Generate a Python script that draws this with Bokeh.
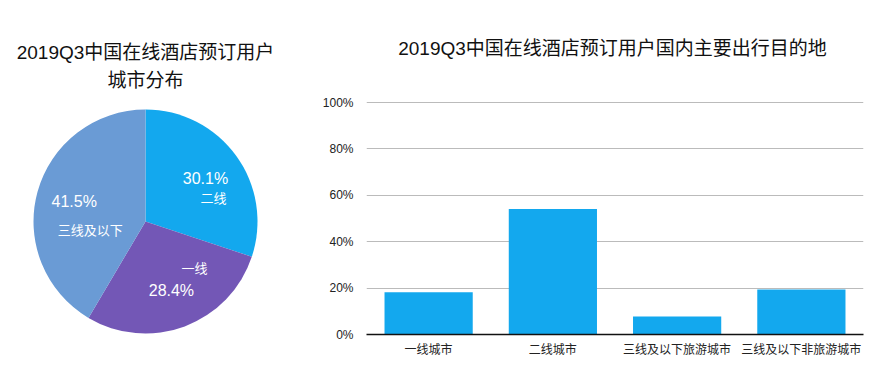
import math
from bokeh.plotting import figure
from bokeh.layouts import row
from bokeh.models import Range1d, FactorRange, FixedTicker, NumeralTickFormatter, ColumnDataSource
from bokeh.core.properties import value
from bokeh.embed import file_html
from bokeh.resources import INLINE

# ---- data ----
pie_title = ["2019Q3中国在线酒店预订用户", "城市分布"]
pie_labels = ["二线", "一线", "三线及以下"]
pie_values = [30.1, 28.4, 41.5]
pie_colors = ["#13A8EE", "#7357B6", "#6A9BD5"]

bar_title = "2019Q3中国在线酒店预订用户国内主要出行目的地"
bar_categories = ["一线城市", "二线城市", "三线及以下旅游城市", "三线及以下非旅游城市"]
bar_values = [0.182, 0.541, 0.078, 0.194]
y_ticks = [0, 0.2, 0.4, 0.6, 0.8, 1.0]

FONT = "'Liberation Sans', 'Noto Sans CJK SC', sans-serif"

H = 383
MB = 49               # bottom border shared by both plots (frames are aligned in a row)
FRAME_H = H - MB

# ---- pie ----
PW = 300
R_PX = 112.0
CX, CY = 145.0, 221.0  # pie center in canvas pixels (from top-left)
pie = figure(width=PW, height=H, output_backend="svg", toolbar_location=None,
             title=None, x_axis_type=None, y_axis_type=None,
             x_range=Range1d(-CX / R_PX, (PW - CX) / R_PX),
             y_range=Range1d(-(FRAME_H - CY) / R_PX, CY / R_PX),
             min_border_left=0, min_border_right=0, min_border_top=0, min_border_bottom=MB)
pie.grid.visible = False
pie.outline_line_color = None

total = sum(pie_values)
starts, ends, mids = [], [], []
a = math.pi / 2
for v in pie_values:
    b = a - 2 * math.pi * v / total
    starts.append(b)
    ends.append(a)
    mids.append((a + b) / 2)
    a = b
src = ColumnDataSource(dict(start=starts, end=ends, color=pie_colors))
pie.wedge(x=0, y=0, radius=1.0, start_angle="start", end_angle="end",
          fill_color="color", line_color=None, source=src)

# label placement (style): percentage at 0.66 r along mid angle, name offset in px
name_offsets = [(8, -20), (23, 22), (16, -29)]
rr = 0.66
for lab, v, m, off in zip(pie_labels, pie_values, mids, name_offsets):
    px, py = rr * math.cos(m), rr * math.sin(m)
    pie.text(x=[px], y=[py], text=[f"{v:.1f}%"], text_color="white",
             text_font=value(FONT), text_font_size="16px",
             text_align="center", text_baseline="middle")
    pie.text(x=[px + off[0] / R_PX], y=[py + off[1] / R_PX], text=[lab], text_color="white",
             text_font=value(FONT), text_font_size="13px",
             text_align="center", text_baseline="middle")

title_rows = [52, 80]  # canvas y of title lines
pie.text(x=[0, 0], y=[(CY - t) / R_PX for t in title_rows], text=pie_title,
         text_color="#111111", text_font=value(FONT), text_font_size="19px",
         text_align="center", text_baseline="middle")

# ---- bar ----
BW = 595
ML, MR = 66, 32
px_per_unit = 232.0
bar = figure(width=BW, height=H, output_backend="svg", toolbar_location=None, title=None,
             x_range=FactorRange(*bar_categories, range_padding=0),
             y_range=Range1d(0, FRAME_H / px_per_unit),
             min_border_left=ML, min_border_right=MR, min_border_top=0, min_border_bottom=MB)
bar.outline_line_color = None
bar.vbar(x=bar_categories, top=bar_values, width=0.71, color="#13A8EE", line_color=None)

bar.xgrid.visible = False
bar.ygrid.grid_line_color = "#BBBBBB"
bar.ygrid.ticker = FixedTicker(ticks=y_ticks)
bar.yaxis.ticker = FixedTicker(ticks=y_ticks)
bar.yaxis.formatter = NumeralTickFormatter(format="0%")
bar.yaxis.axis_line_color = None
bar.yaxis.major_tick_line_color = None
bar.yaxis.minor_tick_line_color = None
bar.yaxis.major_label_standoff = 7
bar.xaxis.axis_line_color = "#111111"
bar.xaxis.axis_line_width = 1.5
bar.xaxis.major_tick_line_color = None
bar.xaxis.minor_tick_line_color = None
bar.xaxis.major_label_standoff = 2
for ax in (bar.xaxis, bar.yaxis):
    ax.major_label_text_font = FONT
    ax.major_label_text_font_size = "12px"
    ax.major_label_text_color = "#222222"
    ax.major_label_text_font_style = "normal"

frame_w = BW - ML - MR
cat_px = frame_w / len(bar_categories)
title_cx, title_cy = 612 - PW, 48  # canvas pixels
bar.text(x=[(title_cx - ML) / cat_px], y=[(FRAME_H - title_cy) / px_per_unit], text=[bar_title],
         text_color="#111111", text_font=value(FONT), text_font_size="19px",
         text_align="center", text_baseline="middle")

layout = row(pie, bar, spacing=0)
open("out.html", "w").write(file_html(layout, INLINE))
